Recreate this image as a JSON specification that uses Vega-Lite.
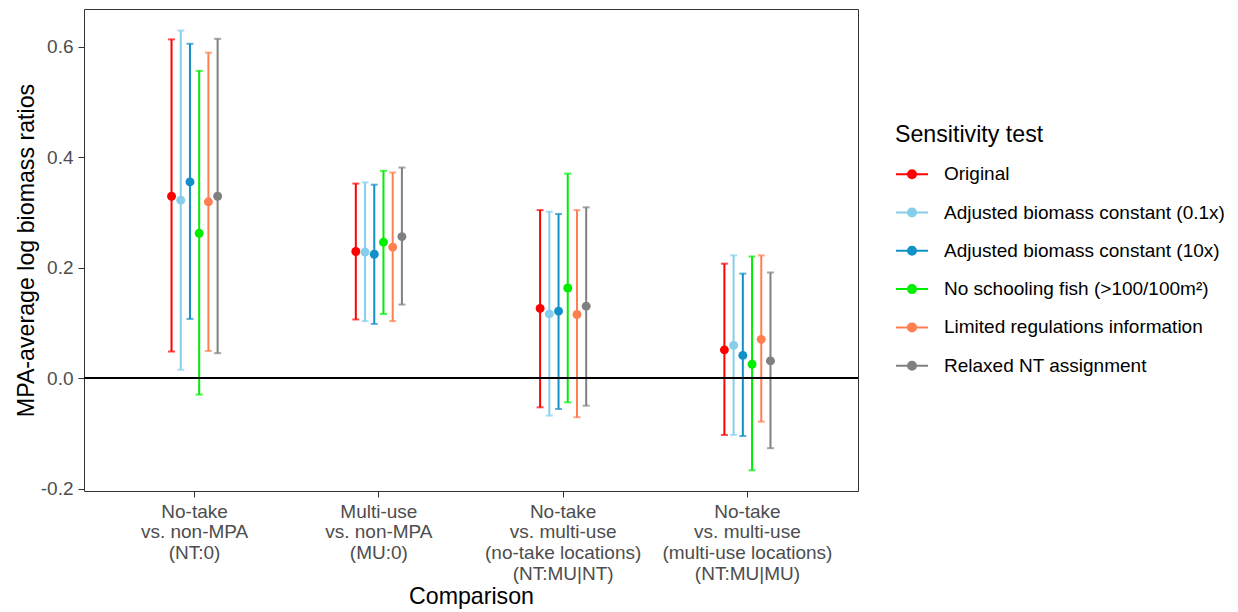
{
  "$schema": "https://vega.github.io/schema/vega-lite/v6.json",
  "width": 774,
  "height": 482,
  "autosize": {"type": "none"},
  "padding": {"left": 84, "top": 9, "right": 380, "bottom": 121},
  "background": "white",
  "config": {
    "font": "Liberation Sans",
    "view": {"stroke": "#333333", "strokeWidth": 1}
  },
  "data": {
    "values": [
      {"comparison": "No-take;vs. non-MPA;(NT:0)", "test": "Original", "lo": 0.048, "est": 0.329, "hi": 0.613},
      {"comparison": "No-take;vs. non-MPA;(NT:0)", "test": "Adjusted biomass constant (0.1x)", "lo": 0.015, "est": 0.322, "hi": 0.629},
      {"comparison": "No-take;vs. non-MPA;(NT:0)", "test": "Adjusted biomass constant (10x)", "lo": 0.107, "est": 0.355, "hi": 0.605},
      {"comparison": "No-take;vs. non-MPA;(NT:0)", "test": "No schooling fish (>100/100m²)", "lo": -0.030, "est": 0.262, "hi": 0.556},
      {"comparison": "No-take;vs. non-MPA;(NT:0)", "test": "Limited regulations information", "lo": 0.049, "est": 0.319, "hi": 0.589},
      {"comparison": "No-take;vs. non-MPA;(NT:0)", "test": "Relaxed NT assignment", "lo": 0.045, "est": 0.329, "hi": 0.614},
      {"comparison": "Multi-use;vs. non-MPA;(MU:0)", "test": "Original", "lo": 0.106, "est": 0.229, "hi": 0.352},
      {"comparison": "Multi-use;vs. non-MPA;(MU:0)", "test": "Adjusted biomass constant (0.1x)", "lo": 0.103, "est": 0.228, "hi": 0.354},
      {"comparison": "Multi-use;vs. non-MPA;(MU:0)", "test": "Adjusted biomass constant (10x)", "lo": 0.098, "est": 0.224, "hi": 0.350},
      {"comparison": "Multi-use;vs. non-MPA;(MU:0)", "test": "No schooling fish (>100/100m²)", "lo": 0.116, "est": 0.246, "hi": 0.375},
      {"comparison": "Multi-use;vs. non-MPA;(MU:0)", "test": "Limited regulations information", "lo": 0.103, "est": 0.237, "hi": 0.372},
      {"comparison": "Multi-use;vs. non-MPA;(MU:0)", "test": "Relaxed NT assignment", "lo": 0.133, "est": 0.256, "hi": 0.381},
      {"comparison": "No-take;vs. multi-use;(no-take locations);(NT:MU|NT)", "test": "Original", "lo": -0.053, "est": 0.126, "hi": 0.304},
      {"comparison": "No-take;vs. multi-use;(no-take locations);(NT:MU|NT)", "test": "Adjusted biomass constant (0.1x)", "lo": -0.068, "est": 0.116, "hi": 0.301},
      {"comparison": "No-take;vs. multi-use;(no-take locations);(NT:MU|NT)", "test": "Adjusted biomass constant (10x)", "lo": -0.056, "est": 0.121, "hi": 0.297},
      {"comparison": "No-take;vs. multi-use;(no-take locations);(NT:MU|NT)", "test": "No schooling fish (>100/100m²)", "lo": -0.044, "est": 0.163, "hi": 0.370},
      {"comparison": "No-take;vs. multi-use;(no-take locations);(NT:MU|NT)", "test": "Limited regulations information", "lo": -0.071, "est": 0.115, "hi": 0.304},
      {"comparison": "No-take;vs. multi-use;(no-take locations);(NT:MU|NT)", "test": "Relaxed NT assignment", "lo": -0.050, "est": 0.130, "hi": 0.309},
      {"comparison": "No-take;vs. multi-use;(multi-use locations);(NT:MU|MU)", "test": "Original", "lo": -0.103, "est": 0.051, "hi": 0.207},
      {"comparison": "No-take;vs. multi-use;(multi-use locations);(NT:MU|MU)", "test": "Adjusted biomass constant (0.1x)", "lo": -0.103, "est": 0.059, "hi": 0.222},
      {"comparison": "No-take;vs. multi-use;(multi-use locations);(NT:MU|MU)", "test": "Adjusted biomass constant (10x)", "lo": -0.105, "est": 0.041, "hi": 0.189},
      {"comparison": "No-take;vs. multi-use;(multi-use locations);(NT:MU|MU)", "test": "No schooling fish (>100/100m²)", "lo": -0.167, "est": 0.025, "hi": 0.220},
      {"comparison": "No-take;vs. multi-use;(multi-use locations);(NT:MU|MU)", "test": "Limited regulations information", "lo": -0.079, "est": 0.070, "hi": 0.222},
      {"comparison": "No-take;vs. multi-use;(multi-use locations);(NT:MU|MU)", "test": "Relaxed NT assignment", "lo": -0.127, "est": 0.031, "hi": 0.191}
    ]
  },
  "layer": [
    {
      "encoding": {
        "x": {
          "field": "comparison",
          "type": "nominal",
          "sort": null,
          "title": "Comparison",
          "scale": {"paddingInner": 0, "paddingOuter": 0.1},
          "axis": {
            "labelExpr": "split(datum.label, ';')",
            "labelAngle": 0,
            "labelFontSize": 19,
            "labelColor": "#4D4D4D",
            "labelLineHeight": 20.9,
            "labelBaseline": "alphabetic",
            "labelPadding": 20,
            "labelLimit": 0,
            "tickSize": 6,
            "tickColor": "#333333",
            "tickWidth": 1,
            "domain": false,
            "grid": false,
            "titleFontSize": 23.2,
            "titleFontWeight": "normal",
            "titleColor": "black",
            "titleBaseline": "alphabetic",
            "titleX": 387,
            "titleY": 112
          }
        },
        "xOffset": {
          "field": "test",
          "type": "nominal",
          "sort": null,
          "scale": {"paddingInner": 0, "paddingOuter": 0, "range": [64.5, 119.8]}
        },
        "color": {
          "field": "test",
          "type": "nominal",
          "scale": {
            "domain": ["Original", "Adjusted biomass constant (0.1x)", "Adjusted biomass constant (10x)", "No schooling fish (>100/100m²)", "Limited regulations information", "Relaxed NT assignment"],
            "range": ["#FF0000", "#87CEEB", "#1290C8", "#00EE00", "#FF7F50", "#808080"]
          },
          "legend": {
            "orient": "none",
            "legendX": 811,
            "legendY": 115,
            "padding": 0,
            "title": "Sensitivity test",
            "titleFontSize": 23.2,
            "titleFontWeight": "normal",
            "titleColor": "black",
            "titlePadding": 10,
            "labelFontSize": 19,
            "labelColor": "black",
            "labelLimit": 0,
            "labelOffset": 15,
            "rowPadding": 11.3,
            "symbolType": "M-1,0L1,0M0.25,0A0.25,0.25,0,1,1,-0.25,0A0.25,0.25,0,1,1,0.25,0Z",
            "symbolSize": 1024,
            "symbolStrokeWidth": 2,
            "encode": {
              "symbols": {
                "update": {
                  "stroke": {"scale": "color", "field": "value"},
                  "fill": {"scale": "color", "field": "value"},
                  "opacity": {"value": 1},
                  "fillOpacity": {"value": 1},
                  "strokeOpacity": {"value": 1}
                }
              }
            }
          }
        }
      },
      "layer": [
        {
          "mark": {"type": "rule", "strokeWidth": 2},
          "encoding": {
            "y": {
              "field": "lo",
              "type": "quantitative",
              "title": "MPA-average log biomass ratios",
              "scale": {"domain": [-0.2045, 0.668], "nice": false, "zero": false},
              "axis": {
                "values": [-0.2, 0, 0.2, 0.4, 0.6],
                "labelExpr": "datum.value < 0 ? '-' + format(-datum.value, '.1f') : format(datum.value, '.1f')",
                "labelFontSize": 19,
                "labelColor": "#4D4D4D",
                "labelPadding": 5,
                "tickSize": 6,
                "tickColor": "#333333",
                "tickWidth": 1,
                "domain": false,
                "grid": false,
                "titleFontSize": 23.2,
                "titleFontWeight": "normal",
                "titleColor": "black",
                "titleAngle": 270,
                "titleBaseline": "alphabetic",
                "titleAlign": "center",
                "titleX": -51,
                "titleY": 241
              }
            },
            "y2": {"field": "hi"}
          }
        },
        {
          "mark": {"type": "tick", "orient": "horizontal", "thickness": 2, "size": 7},
          "encoding": {"y": {"field": "lo", "type": "quantitative", "title": "MPA-average log biomass ratios"}}
        },
        {
          "mark": {"type": "tick", "orient": "horizontal", "thickness": 2, "size": 7},
          "encoding": {"y": {"field": "hi", "type": "quantitative", "title": "MPA-average log biomass ratios"}}
        },
        {
          "mark": {"type": "point", "filled": true, "size": 80, "opacity": 1},
          "encoding": {"y": {"field": "est", "type": "quantitative", "title": "MPA-average log biomass ratios"}}
        }
      ]
    },
    {
      "data": {"values": [{"zero": 0}]},
      "mark": {"type": "rule", "color": "black", "strokeWidth": 2},
      "encoding": {"y": {"field": "zero", "type": "quantitative", "title": "MPA-average log biomass ratios"}}
    }
  ]
}
